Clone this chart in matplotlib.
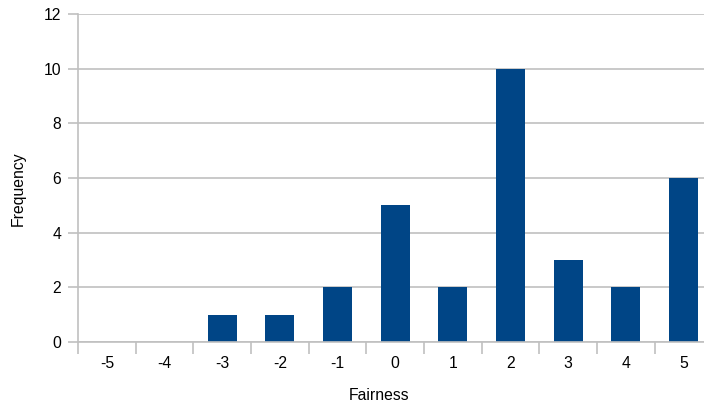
import matplotlib
matplotlib.use("Agg")
import matplotlib.pyplot as plt
import numpy as np

categories = ["-5", "-4", "-3", "-2", "-1", "0", "1", "2", "3", "4", "5"]
frequency = [0, 0, 1, 1, 2, 5, 2, 10, 3, 2, 6]

plt.rcParams['font.family'] = ['Liberation Sans', 'DejaVu Sans']

W, H = 704, 405
fig = plt.figure(figsize=(W / 100, H / 100), dpi=100)
left, right, top, bottom = 78, 712.3, 14, 342
ax = fig.add_axes([left / W, (H - bottom) / H, (right - left) / W, (bottom - top) / H])

x = np.arange(len(categories))
ax.bar(x, frequency, width=0.5, color="#004586", zorder=3)

ax.set_xlim(-0.5, len(categories) - 0.5)
ax.set_ylim(0, 12)
ax.set_yticks(range(0, 13, 2))
ax.yaxis.grid(True, color="#c0c0c0", linewidth=1.2, zorder=0)
ax.set_axisbelow(True)

fs = 11.3
# boundary ticks (major), labels at centers (minor)
ax.set_xticks(np.arange(-0.5, len(categories), 1.0))
ax.set_xticklabels([])
ax.set_xticks(x, minor=True)
ax.set_xticklabels(categories, minor=True)
ax.tick_params(axis='x', which='major', length=8.5, width=1.2, color="#c0c0c0")
ax.tick_params(axis='x', which='minor', length=0, pad=10, labelsize=fs, labelcolor="#000000")
ax.tick_params(axis='y', length=7, width=1.2, color="#c0c0c0", pad=5, labelsize=fs)

for s in ["top", "right"]:
    ax.spines[s].set_visible(False)
for s in ["left", "bottom"]:
    ax.spines[s].set_color("#c0c0c0")
    ax.spines[s].set_linewidth(1.2)
    ax.spines[s].set_zorder(4)

fig.text(18 / W, 1 - 189 / H, "Frequency", rotation=90, ha="center", va="center", fontsize=fs)
fig.text(379 / W, 1 - 395 / H, "Fairness", ha="center", va="center", fontsize=fs)

fig.savefig("out.png", dpi=100)
